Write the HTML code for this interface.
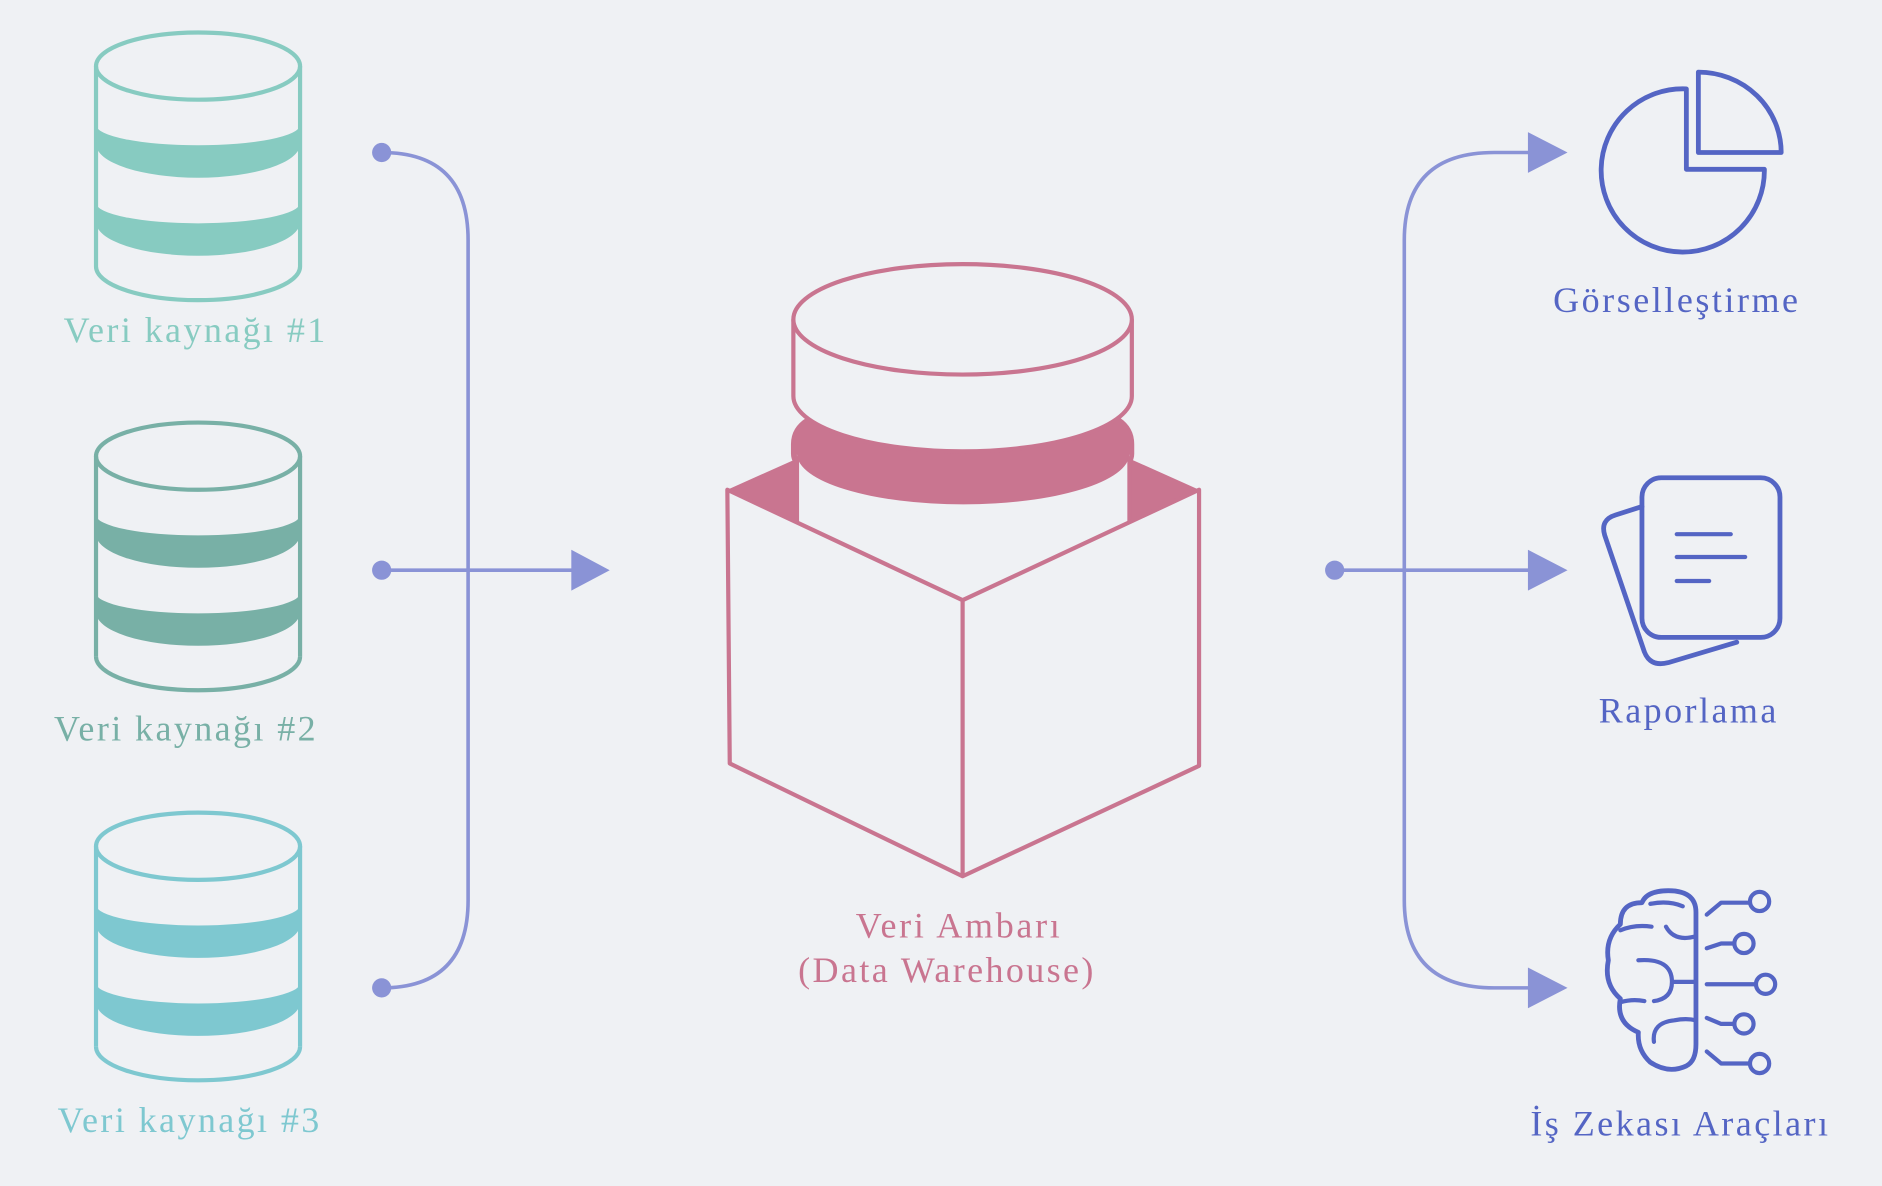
<!DOCTYPE html>
<html><head><meta charset="utf-8"><style>
html,body{margin:0;padding:0;background:#eff1f4;}
svg{display:block;}
text{font-family:"Liberation Serif",serif;font-size:30px;}
</style></head><body>
<svg width="1882" height="1186" viewBox="0 0 1568 988" xmlns="http://www.w3.org/2000/svg">
<rect width="1568" height="988" fill="#eff1f4"/>
<defs>
<g id="db">
<ellipse cx="165" cy="55" rx="85" ry="28" fill="none" stroke-width="3.5"/>
<path d="M80,55 L80,222 M250,55 L250,222" fill="none" stroke-width="3.5"/>
<path d="M80,104 L80,120 A85,28 0 0 0 250,120 L250,104 A85,17 0 0 1 80,104 Z" stroke="none"/>
<path d="M80,169 L80,185 A85,28 0 0 0 250,185 L250,169 A85,17 0 0 1 80,169 Z" stroke="none"/>
<path d="M80,222 A85,28 0 0 0 250,222" fill="none" stroke-width="3.5"/>
</g>
</defs>
<use href="#db" stroke="#87cbc1" fill="#87cbc1"/>
<use href="#db" y="325" stroke="#78b0a6" fill="#78b0a6"/>
<use href="#db" y="650" stroke="#7ec8d0" fill="#7ec8d0"/>
<text x="162" y="285" text-anchor="middle" fill="#87cbc1" textLength="218">Veri kaynağı #1</text>
<text x="154" y="617" text-anchor="middle" fill="#78b0a6" textLength="218">Veri kaynağı #2</text>
<text x="157" y="943" text-anchor="middle" fill="#7ec8d0" textLength="218">Veri kaynağı #3</text>

<g stroke="#8a93d6" stroke-width="3" fill="none">
<path d="M318,127 Q390,127 390,200 L390,750 Q390,823 318,823"/>
<path d="M318,475 L480,475"/>
<path d="M1112,475 L1280,475"/>
<path d="M1280,127 L1245,127 Q1170,127 1170,200 L1170,750 Q1170,823 1245,823 L1280,823"/>
</g>
<g fill="#8a93d6">
<circle cx="318" cy="127" r="8"/><circle cx="318" cy="475" r="8"/><circle cx="318" cy="823" r="8"/>
<circle cx="1112" cy="475" r="8"/>
<polygon points="476,458 508,475 476,492"/>
<polygon points="1273,110 1306,127 1273,144"/>
<polygon points="1273,458 1306,475 1273,492"/>
<polygon points="1273,806 1306,823 1273,840"/>
</g>

<g stroke="#c97590" stroke-width="3.5" fill="none" stroke-linejoin="round">
<path d="M659,370 Q659,356 672,348 L933,348 Q945,356 945,370 L945,378 A143,45 0 0 1 659,378 Z" fill="#c97590" stroke="none"/>
<path d="M664,378 A138,42 0 0 0 941,378 L941,434 L664,434 Z" fill="#eff1f4" stroke="none"/>
<polygon points="606,408 664,382 664,436" fill="#c97590" stroke="none"/>
<polygon points="999,408 941,382 941,436" fill="#c97590" stroke="none"/>
<path d="M661,266 L661,330 A141,46 0 0 0 943,330 L943,266" fill="#eff1f4"/>
<ellipse cx="802" cy="266" rx="141" ry="46" fill="#eff1f4"/>
<path d="M664,380 L664,434 M941,380 L941,434"/>
<path d="M606,408 L802,500 L999,408 L999,638 L802,730 L608,636 Z"/>
<path d="M802,500 L802,730"/>
</g>
<text x="798" y="781" text-anchor="middle" fill="#c97590" textLength="170">Veri Ambarı</text>
<text x="788" y="818" text-anchor="middle" fill="#c97590" textLength="246">(Data Warehouse)</text>

<g stroke="#5465c4" stroke-width="4" fill="none" stroke-linejoin="round" stroke-linecap="round">
<path d="M1405,74 A68,68 0 1 0 1470,141 L1405,141 Z"/>
<path d="M1415,60 L1415,127 L1484,127 A69,67 0 0 0 1415,60 Z"/>
<path d="M1368,422 L1346,429 Q1333,433 1337,446 L1370,543 Q1375,556 1390,552 L1447,535"/>
<rect x="1368" y="398" width="115" height="133" rx="16"/>
<path d="M1397,445 L1442,445 M1397,464 L1454,464 M1397,484 L1424,484" stroke-width="3.5"/>
<path d="M1413,760 Q1413,742 1390,742 Q1372,742 1368,752 Q1350,752 1350,770 Q1337,782 1340,800 Q1336,820 1350,832 Q1346,852 1365,860 Q1364,875 1375,885 Q1390,895 1405,888 Q1413,884 1413,870 Z"/>
<path d="M1350,775 Q1362,770 1376,772 M1365,800 Q1393,798 1393,818 Q1393,832 1378,834 M1393,818 L1413,818 M1350,835 Q1360,832 1370,834 M1378,868 Q1376,852 1395,850 Q1405,848 1413,850 M1413,780 Q1395,785 1388,772 M1375,753 Q1390,750 1402,755" stroke-width="3.5"/>
<path d="M1422,762 L1434,752 L1458,752 M1422,790 L1434,786 L1445,786 M1422,820 L1463,820 M1422,848 L1434,853 L1445,853 M1422,876 L1434,886 L1458,886" stroke-width="3.5"/>
<circle cx="1466" cy="751" r="8" stroke-width="3.5"/>
<circle cx="1453" cy="786" r="8" stroke-width="3.5"/>
<circle cx="1471" cy="820" r="8" stroke-width="3.5"/>
<circle cx="1453" cy="853" r="8" stroke-width="3.5"/>
<circle cx="1466" cy="886" r="8" stroke-width="3.5"/>
</g>
<text x="1396" y="260" text-anchor="middle" fill="#5465c4" textLength="204">Görselleştirme</text>
<text x="1406" y="602" text-anchor="middle" fill="#5465c4" textLength="148">Raporlama</text>
<text x="1399" y="946" text-anchor="middle" fill="#5465c4" textLength="248">İş Zekası Araçları</text>
</svg>
</body></html>
